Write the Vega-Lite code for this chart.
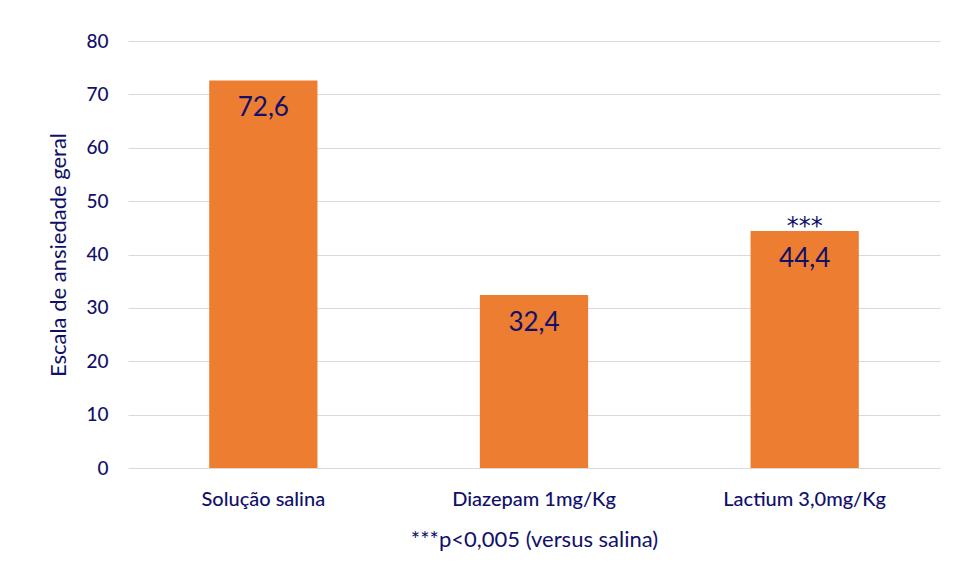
{
  "$schema": "https://vega.github.io/schema/vega-lite/v6.json",
  "autosize": {"type": "none"},
  "padding": {"left": 128, "top": 41, "right": 17, "bottom": 114},
  "width": 812,
  "height": 427,
  "background": "white",
  "config": {
    "view": {"stroke": null},
    "font": "Lato",
    "locale": {"number": {"decimal": ",", "thousands": ".", "grouping": [3], "currency": ["", "€"]}}
  },
  "data": {
    "values": [
      {"grupo": "Solução salina", "valor": 72.6, "sig": ""},
      {"grupo": "Diazepam 1mg/Kg", "valor": 32.4, "sig": ""},
      {"grupo": "Lactium 3,0mg/Kg", "valor": 44.4, "sig": "***"}
    ]
  },
  "encoding": {
    "x": {
      "field": "grupo", "type": "nominal", "sort": null,
      "scale": {"paddingInner": 0.6, "paddingOuter": 0.3},
      "axis": {
        "title": "***p<0,005 (versus salina)",
        "titleFont": "Lato", "titleFontSize": 22, "titleFontWeight": "normal", "titleColor": "#10106a",
        "titlePadding": 20,
        "labelAngle": 0, "labelFontSize": 20, "labelFontWeight": 500, "labelColor": "#10106a", "labelPadding": 21,
        "domain": false, "ticks": false
      }
    },
    "y": {
      "field": "valor", "type": "quantitative",
      "scale": {"domain": [0, 80]},
      "axis": {
        "title": "Escala de ansiedade geral",
        "titleFontSize": 22, "titleFontWeight": "normal", "titleColor": "#10106a", "titlePadding": 15,
        "values": [0,10,20,30,40,50,60,70,80], "labelOverlap": false,
        "labelFontSize": 19, "labelFontWeight": 500, "labelColor": "#10106a", "labelPadding": 20,
        "domain": false, "ticks": false,
        "grid": true, "gridColor": "#d9d9d9", "gridWidth": 1.2
      }
    }
  },
  "layer": [
    {"mark": {"type": "bar", "color": "#ED7D31"}},
    {
      "mark": {"type": "text", "baseline": "middle", "dy": 28, "fontSize": 26, "color": "#10106a"},
      "encoding": {"text": {"field": "valor", "type": "quantitative", "format": ".1f"}}
    },
    {
      "mark": {"type": "text", "baseline": "middle", "dy": -4, "fontSize": 24, "font": "DejaVu Sans", "color": "#10106a"},
      "encoding": {"text": {"field": "sig"}}
    }
  ]
}
